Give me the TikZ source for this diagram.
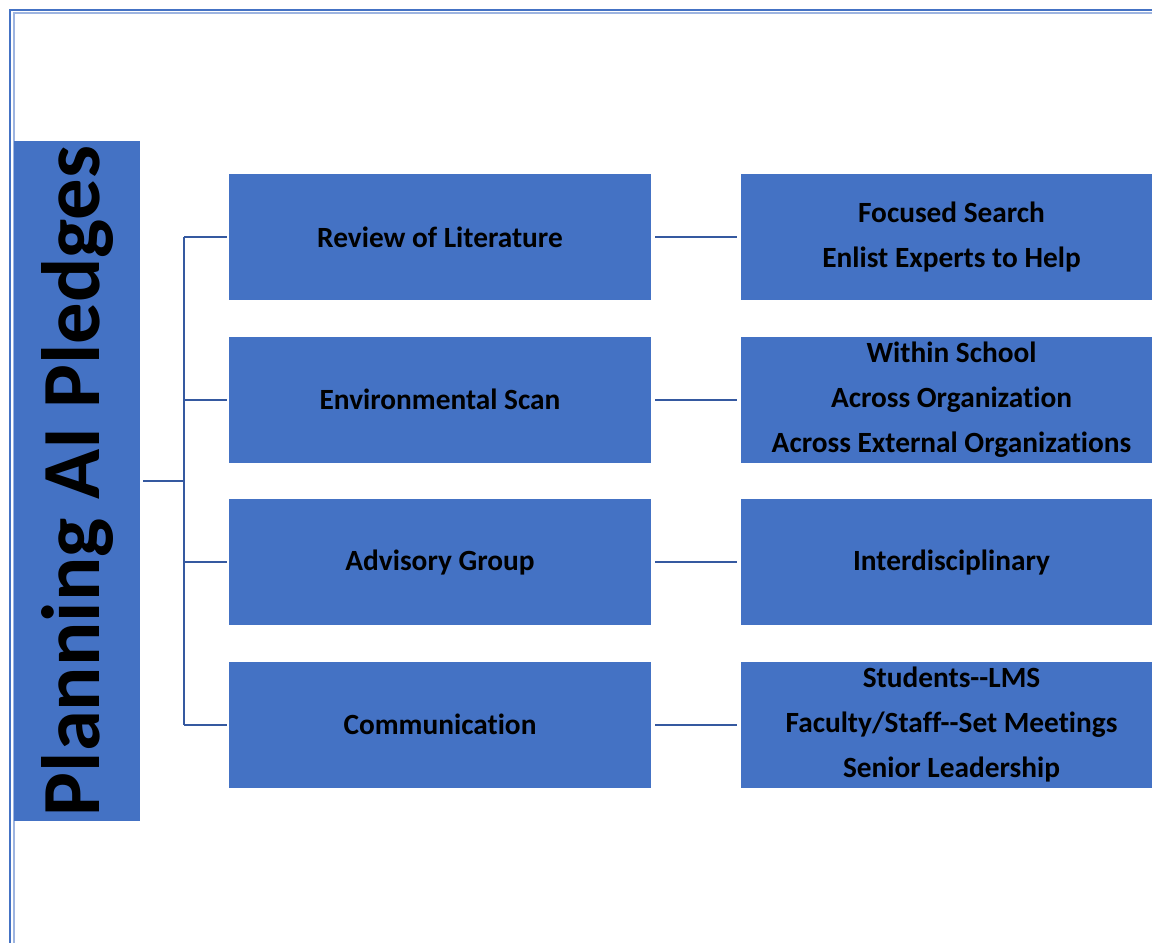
\documentclass[tikz,border=0pt]{standalone}
\usepackage{fontspec}
\setmainfont[Ligatures=NoCommon]{Carlito}
\usepackage{tikz}
\usetikzlibrary{positioning}
\usetikzlibrary{calc}
\definecolor{cajaazul}{HTML}{4472C4}
\definecolor{lineaazul}{HTML}{3559A0}
\definecolor{marcoclaro}{HTML}{9DB4E0}

\begin{document}
\begin{tikzpicture}[
        x=0.75pt, y=-0.75pt, % 1 unidad = 1 pixel de la figura
        font=\bfseries\fontsize{22}{33.5}\selectfont, % Fuente de las cajas
        caja/.style={fill=cajaazul, draw=none, inner sep=0pt,
        minimum width=316.5pt, minimum height=94.5pt, align=center}, % Estilo de las cajas
        titulo/.style={fill=cajaazul, draw=none, inner sep=0pt,
        minimum width=510pt, minimum height=94.5pt, rotate=90,
        font=\bfseries\fontsize{62}{62}\selectfont}, % Caja vertical del titulo
        rama/.style={draw=lineaazul, line width=1.5pt}, % Estilo de las lineas
        marco/.style={line width=0.9pt}, % Estilo del marco
    ]
        % --- Area de la figura ---
        \useasboundingbox (0,0) rectangle (1152,942);
        \clip (0,0) rectangle (1152,942);

        % --- Marco doble (arriba e izquierda) ---
        \draw[marco, cajaazul] (10,960) -- (10,10) -- (1170,10);
        \draw[marco, marcoclaro, line width=1.5pt] (13.5,960) -- (13.5,13.5) -- (1170,13.5);

        % --- Caja del titulo ---
        \node[titulo] (plan) at (77,481) {Planning AI Pledges};

        % --- Cajas centrales ---
        \node[caja] (lit) at (440,237) {Review of Literature};
        \node[caja, below=27pt of lit] (scan) {Environmental Scan};
        \node[caja, below=27pt of scan] (grupo) {Advisory Group};
        \node[caja, below=27pt of grupo] (comun) {Communication};

        % --- Cajas de la derecha ---
        \node[caja, right=66.75pt of lit] (litD) {Focused Search\\Enlist Experts to Help};
        \node[caja, right=66.75pt of scan] (scanD) {Within School\\Across Organization\\Across External Organizations};
        \node[caja, right=66.75pt of grupo] (grupoD) {Interdisciplinary};
        \node[caja, right=66.75pt of comun] (comunD) {Students-{}-LMS\\Faculty/Staff-{}-Set Meetings\\Senior Leadership};

        % --- Lineas del arbol ---
        \coordinate (eje) at (184,481);
        \draw[rama, shorten <=2.25pt] (plan.south) -- (eje);
        \draw[rama] (eje |- lit.west) -- (eje |- comun.west);
        \draw[rama, shorten >=1.5pt] (eje |- lit.west) -- (lit.west);
        \draw[rama, shorten >=1.5pt] (eje |- scan.west) -- (scan.west);
        \draw[rama, shorten >=1.5pt] (eje |- grupo.west) -- (grupo.west);
        \draw[rama, shorten >=1.5pt] (eje |- comun.west) -- (comun.west);

        % --- Lineas hacia la derecha ---
        \draw[rama, shorten <=3pt, shorten >=2.25pt] (lit.east) -- (litD.west);
        \draw[rama, shorten <=3pt, shorten >=2.25pt] (scan.east) -- (scanD.west);
        \draw[rama, shorten <=3pt, shorten >=2.25pt] (grupo.east) -- (grupoD.west);
        \draw[rama, shorten <=3pt, shorten >=2.25pt] (comun.east) -- (comunD.west);

    \end{tikzpicture}
\end{document}
